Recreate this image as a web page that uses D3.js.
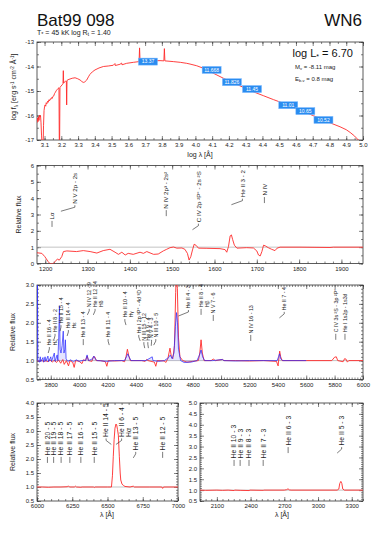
<!DOCTYPE html>
<html lang="en">
<head>
<meta charset="UTF-8">
<title>Bat99 098</title>
<script src="https://d3js.org/d3.v7.min.js"></script>
<style>
  body { margin: 0; background: #fff; }
  svg { font-family: "Liberation Sans", Arial, sans-serif; }
  .frame { fill: none; stroke: #333; stroke-width: 0.8; }
  .axis path { display: none; }
  .axis line { stroke: #333; stroke-width: 0.6; }
  .axis text { font-size: 6px; fill: #222; }
  .model { fill: none; stroke: #ff2a2a; stroke-width: 0.9; }
  .obs { fill: none; stroke: #2a2aff; stroke-width: 0.9; stroke-opacity: 0.8; }
  .obsfill { fill: #6a6aff; fill-opacity: 0.18; stroke: none; }
  .unity { stroke: #aaa; stroke-width: 0.7; }
  .ident text { font-family: "Liberation Sans Narrow", "Liberation Sans", sans-serif; fill: #222; }
  .ident path { fill: none; stroke: #222; stroke-width: 0.6; }
  .title { font-size: 17px; fill: #111; }
  .lab { font-size: 7px; fill: #222; }
</style>
</head>
<body>
<svg id="chart" width="382" height="541"></svg>
<script>
// ---- SED (log lambda, log f_lambda) ----
const sedModel = [
  [3.055,-16.30],[3.058,-16.10],[3.061,-16.25],[3.064,-16.05],[3.067,-16.20],[3.070,-15.98],[3.073,-16.05],
  [3.076,-16.00],[3.079,-16.30],[3.082,-16.80],[3.084,-17.05],[3.092,-17.05],[3.094,-16.40],[3.097,-15.80],
  [3.100,-15.65],[3.103,-15.57],[3.107,-15.62],[3.110,-15.48],[3.114,-15.52],[3.118,-15.42],[3.122,-15.46],
  [3.126,-15.36],[3.130,-15.40],[3.134,-15.32],[3.138,-15.34],[3.142,-15.27],[3.146,-15.30],[3.150,-15.22],
  [3.155,-15.20],[3.160,-15.10],[3.165,-15.05],[3.170,-14.98],[3.175,-14.95],[3.180,-14.90],[3.186,-14.87],
  [3.188,-17.05],[3.190,-17.05],[3.192,-14.86],[3.198,-14.80],[3.205,-14.75],[3.210,-14.70],[3.212,-14.17],
  [3.214,-14.68],[3.220,-14.62],[3.226,-14.60],[3.230,-14.60],[3.232,-15.57],[3.234,-14.57],[3.240,-14.54],
  [3.252,-14.51],[3.265,-14.48],[3.282,-14.46],[3.298,-14.50],[3.312,-14.55],[3.322,-14.61],[3.331,-14.65],
  [3.340,-14.63],[3.352,-14.55],[3.362,-14.42],[3.371,-14.32],[3.385,-14.22],[3.401,-14.14],[3.425,-14.06],
  [3.451,-14.00],[3.480,-13.98],[3.510,-13.95],[3.520,-13.88],[3.522,-13.96],[3.550,-13.91],[3.560,-13.86],
  [3.562,-13.93],[3.590,-13.87],[3.630,-13.83],[3.664,-13.80],[3.667,-13.24],[3.670,-13.80],[3.710,-13.78],
  [3.750,-13.77],[3.789,-13.76],[3.812,-13.77],[3.815,-13.27],[3.818,-13.77],[3.868,-13.80],[3.910,-13.83],
  [3.948,-13.87],[3.968,-13.90],[4.008,-13.97],[4.047,-14.07],[4.100,-14.25],[4.167,-14.48],[4.230,-14.68],
  [4.286,-14.85],[4.345,-15.03],[4.405,-15.19],[4.465,-15.35],[4.525,-15.50],[4.585,-15.67],[4.644,-15.84],
  [4.705,-16.01],[4.763,-16.18],[4.815,-16.33],[4.863,-16.46],[4.900,-16.58],[4.923,-16.69],[4.950,-16.84],
  [4.972,-17.00],[4.990,-17.10]
];
const photLogLam = [3.717, 4.097, 4.218, 4.338, 4.554, 4.656, 4.764];
const photLogF   = [-13.80, -14.14, -14.64, -14.92, -15.58, -15.82, -16.18];
const photMag    = ['13.37', '11.668', '11.826', '11.45', '11.01', '10.65', '10.52'];

// ---- UV (wavelength, relative flux) ----
const uvModel = [
  [1180,0.66],[1192,0.62],[1199,0.42],[1207,0.11],[1211,0.0],[1219,0.0],[1223,0.11],[1229,0.28],[1233,0.2],
  [1239,0.42],[1243,0.73],[1251,0.77],[1274,0.73],[1290,0.79],[1306,0.73],[1322,0.64],[1337,0.79],[1353,0.87],
  [1365,0.69],[1373,0.56],[1381,0.69],[1389,0.52],[1396,0.62],[1408,0.56],[1424,0.69],[1432,0.62],[1440,0.73],
  [1456,0.56],[1467,0.58],[1479,0.77],[1487,0.87],[1495,0.97],[1503,1.01],[1511,0.94],[1523,0.95],[1530,0.87],
  [1536,0.62],[1540,0.21],[1544,0.42],[1548,0.83],[1552,1.18],[1557,1.1],[1562,0.94],[1582,0.93],[1613,0.91],
  [1625,0.85],[1629,0.69],[1633,1.03],[1637,1.69],[1640,1.75],[1643,1.46],[1647,1.12],[1653,0.94],[1676,0.97],
  [1692,0.95],[1700,0.77],[1704,0.52],[1708,0.46],[1712,0.73],[1716,1.12],[1720,1.08],[1727,0.97],[1735,0.87],
  [1743,0.79],[1748,0.94],[1755,1.0],[1802,1.0],[1873,0.98],[1881,1.0],[1951,1.0]
];
// [line wavelength, label wavelength, leader level, text]
const uvIds = [
  [1216, 1216, 2.24, 'Lα'],
  [1237, 1270, 3.20, 'N V 2p - 2s'],
  [1486, 1486, 2.90, 'N IV 2p³ - 2s²'],
  [1548, 1562, 2.07, 'C IV 2p ²P° - 2s ²S'],
  [1640, 1666, 3.60, 'He II 3 - 2'],
  [1718, 1718, 3.70, 'N IV']
];

// ---- optical (wavelength, relative flux) ----
const optModel = [
  [3703,1.0],[3720,0.98],[3735,1.01],[3750,0.97],[3765,1.0],[3780,0.97],[3795,1.02],[3810,0.96],[3825,1.01],
  [3840,0.95],[3855,1.02],[3870,0.93],[3885,1.03],[3895,0.9],[3910,1.0],[3925,0.86],[3935,1.0],[3955,0.95],
  [3965,0.82],[3975,1.0],[4000,0.98],[4020,0.92],[4030,1.02],[4045,1.0],[4056,1.12],[4066,1.0],[4090,0.98],
  [4100,1.1],[4110,1.1],[4120,1.0],[4150,1.0],[4185,0.97],[4195,0.85],[4205,1.0],[4250,0.99],[4300,1.0],
  [4320,0.97],[4330,1.1],[4340,1.3],[4350,1.12],[4360,1.0],[4440,1.0],[4465,0.98],[4475,1.03],[4485,1.0],
  [4530,0.96],[4540,0.85],[4550,1.0],[4600,0.99],[4610,0.95],[4625,1.05],[4640,1.33],[4650,1.1],[4660,1.05],
  [4672,1.4],[4680,2.8],[4686,3.4],[4692,2.9],[4700,1.6],[4710,1.1],[4730,1.0],[4760,0.96],[4800,0.98],
  [4840,1.0],[4850,1.2],[4859,1.55],[4868,1.2],[4880,1.0],[4930,1.0],[4945,1.04],[4960,1.0],[5010,1.03],
  [5020,1.0],[5100,1.0],[5200,0.99],[5300,1.0],[5390,0.98],[5402,0.86],[5408,1.1],[5413,1.25],[5420,1.1],
  [5430,1.0],[5600,1.0],[5780,1.0],[5800,1.09],[5812,1.1],[5822,1.0],[5860,0.97],[5870,1.05],[5880,1.04],
  [5890,0.96],[5900,1.0],[6000,1.0]
];
const optObs = [
  [3703,1.0],[3706,3.2],[3709,1.0],[3720,0.96],[3726,1.1],[3730,0.97],[3745,1.08],[3750,0.96],[3760,1.1],
  [3765,0.98],[3780,1.12],[3785,0.97],[3800,1.1],[3805,0.98],[3825,1.2],[3830,0.98],[3845,1.15],[3850,1.0],
  [3856,1.6],[3861,2.45],[3866,1.3],[3872,1.2],[3880,1.4],[3888,1.78],[3893,1.2],[3899,1.3],[3903,1.55],
  [3908,1.05],[3920,0.98],[3940,1.02],[3960,0.97],[3980,1.02],[4000,0.98],[4030,1.01],[4045,1.0],[4056,1.15],
  [4066,1.0],[4095,1.05],[4103,1.12],[4112,1.06],[4125,1.0],[4200,0.98],[4250,1.0],[4320,1.0],[4333,1.1],
  [4342,1.18],[4352,1.1],[4365,1.0],[4470,1.0],[4515,1.1],[4520,1.0],[4560,0.98],[4600,1.0],[4630,1.08],
  [4642,1.15],[4655,1.05],[4668,1.2],[4678,1.9],[4686,2.27],[4693,2.0],[4700,1.3],[4715,1.0],[4740,0.95],
  [4790,0.96],[4830,1.0],[4848,1.15],[4859,1.28],[4870,1.1],[4885,1.0],[4940,1.0],[5010,1.03],[5020,1.0],
  [5100,0.99],[5200,1.0],[5395,1.0],[5405,1.1],[5412,1.18],[5420,1.05],[5435,1.0],[5500,1.0],[5600,1.0]
];
const optIds = [
  [3782, 3790, 1.20, 'He II 16 - 4|Hζ'],
  [3822, 3830, 1.55, 'He II 8 - 2'],
  [3865, 3872, 1.78, 'He II 15 - 4'],
  [3915, 3924, 1.65, 'He II 14 - 4|Hε'],
  [4029, 4029, 1.41, 'He II 13 - 4'],
  [4058, 4071, 2.21, 'N IV 12 - 9'],
  [4100, 4112, 2.21, 'He II 12 - 4|Hδ'],
  [4212, 4204, 1.41, 'He II 11 - 4'],
  [4330, 4322, 1.94, 'He II 10 - 4|Hγ'],
  [4430, 4420, 1.52, 'He I 2p ³P° - 4d ³D'],
  [4462, 4456, 1.33, 'N III 15 - 12'],
  [4488, 4484, 1.33, 'He II 9 - 4'],
  [4508, 4510, 1.39, 'N V 4 - 3'],
  [4525, 4540, 1.41, 'N III 10 - 5'],
  [4700, 4770, 2.18, 'He II 4 - 3'],
  [4859, 4859, 2.21, 'He II 8 - 4|Hβ'],
  [4945, 4945, 2.05, 'N V 7 - 6'],
  [5209, 5209, 1.52, 'N IV 16 - 13'],
  [5411, 5445, 2.13, 'He II 7 - 4'],
  [5808, 5808, 1.55, 'C IV 3s ²S - 3p ²P°'],
  [5873, 5873, 1.55, 'He I 1s2p - 1s3d']
];

// ---- H alpha region ----
const haModel = [
  [6000,1.0],[6040,1.0],[6080,0.99],[6120,1.0],[6170,1.0],[6215,1.01],[6222,1.04],[6230,1.0],[6265,1.0],
  [6272,1.03],[6280,1.0],[6311,0.99],[6320,1.0],[6400,1.0],[6406,0.98],[6412,1.0],[6500,1.0],[6528,1.0],
  [6535,1.4],[6541,2.08],[6547,2.7],[6553,3.1],[6560,3.25],[6565,3.22],[6571,3.05],[6577,2.85],[6584,2.08],
  [6590,1.5],[6594,1.25],[6603,1.1],[6615,1.05],[6624,1.02],[6660,1.0],[6683,1.03],[6690,1.0],[6800,1.0],
  [6885,1.0],[6891,0.95],[6897,1.0],[7000,1.0]
];
const haIds = [
  [6074, 6074, 1.86, 'He II 20 - 5'],
  [6118, 6118, 1.86, 'He II 19 - 5'],
  [6171, 6171, 1.86, 'He II 18 - 5'],
  [6233, 6233, 1.86, 'He II 17 - 5'],
  [6311, 6311, 1.86, 'He II 16 - 5'],
  [6406, 6406, 1.86, 'He II 15 - 5'],
  [6527, 6490, 2.52, 'He II 14 - 5'],
  [6560, 6600, 2.52, 'He II 6 - 4|Hα'],
  [6683, 6700, 2.04, 'He II 13 - 5'],
  [6891, 6891, 2.04, 'He II 12 - 5']
];

// ---- UV He II n-3 region ----
const uv2Model = [
  [1950,1.0],[2000,0.99],[2100,1.0],[2150,0.99],[2200,1.0],[2253,0.98],[2260,1.0],[2307,0.99],[2386,0.98],
  [2395,1.0],[2512,0.99],[2520,1.0],[2700,1.0],[2720,1.02],[2733,1.06],[2745,1.01],[2760,1.0],[3170,1.0],
  [3185,1.05],[3193,1.3],[3203,1.4],[3212,1.3],[3220,1.05],[3235,1.0],[3400,1.0]
];
const uv2Ids = [
  [2253, 2253, 2.11, 'He II 10 - 3'],
  [2307, 2307, 2.11, 'He II 9 - 3'],
  [2386, 2386, 2.11, 'He II 8 - 3'],
  [2512, 2512, 2.11, 'He II 7 - 3'],
  [2734, 2734, 2.70, 'He II 6 - 3'],
  [3170, 3210, 2.70, 'He II 5 - 3']
];

const svg = d3.select('#chart');
let clipCount = 0;

const stepTicks = (d, step) => d3.range(Math.ceil(d[0] / step - 1e-6), Math.floor(d[1] / step + 1e-6) + 1)
  .map(i => +(i * step).toFixed(6));

function makePanel(o) {
  const x = d3.scaleLinear().domain(o.xd).range([o.left, o.right]);
  const y = d3.scaleLinear().domain(o.yd).range([o.bottom, o.top]);
  const g = svg.append('g');
  const id = 'clip' + (clipCount++);
  svg.append('clipPath').attr('id', id).append('rect')
    .attr('x', o.left).attr('y', o.top).attr('width', o.right - o.left).attr('height', o.bottom - o.top);

  const add = (fn, scale, ticks, size, fmt, tr) => g.append('g').attr('class', 'axis').attr('transform', tr)
    .call(fn(scale).tickValues(ticks).tickSizeInner(-size).tickSizeOuter(0).tickPadding(3).tickFormat(fmt));
  const blank = () => '';
  const xM = stepTicks(o.xd, o.xMajor), xm = stepTicks(o.xd, o.xMinor);
  const yM = stepTicks(o.yd, o.yMajor), ym = stepTicks(o.yd, o.yMinor);
  add(d3.axisBottom, x, xm, 2, blank, `translate(0,${o.bottom})`);
  add(d3.axisBottom, x, xM, 4, o.xFmt, `translate(0,${o.bottom})`);
  add(d3.axisTop, x, xm, 2, blank, `translate(0,${o.top})`);
  add(d3.axisTop, x, xM, 4, blank, `translate(0,${o.top})`);
  add(d3.axisLeft, y, ym, 2, blank, `translate(${o.left},0)`);
  add(d3.axisLeft, y, yM, 4, o.yFmt, `translate(${o.left},0)`);
  add(d3.axisRight, y, ym, 2, blank, `translate(${o.right},0)`);
  add(d3.axisRight, y, yM, 4, blank, `translate(${o.right},0)`);
  g.append('rect').attr('class', 'frame')
    .attr('x', o.left).attr('y', o.top).attr('width', o.right - o.left).attr('height', o.bottom - o.top);
  const plot = g.append('g').attr('clip-path', `url(#${id})`);
  return { x, y, g, plot, o };
}

function drawLine(p, data, cls) {
  p.plot.append('path').datum(data).attr('class', cls)
    .attr('d', d3.line().x(d => p.x(d[0])).y(d => p.y(d[1])));
}

function unity(p) {
  p.plot.append('line').attr('class', 'unity')
    .attr('x1', p.o.left).attr('x2', p.o.right).attr('y1', p.y(1)).attr('y2', p.y(1));
}

function drawIdents(p, ids, size) {
  const g = p.g.append('g').attr('class', 'ident').attr('font-size', size);
  ids.forEach(([lam, lab, lev, txt]) => {
    const x0 = p.x(lam), x1 = p.x(lab), y0 = p.y(lev);
    g.append('path').attr('d', `M${x0},${y0}L${x1},${y0 - 4}L${x1},${y0 - 6}`);
    txt.split('|').forEach((t, i) => {
      g.append('text').attr('transform', `translate(${x1 + size * 0.35 + i * size * 1.1},${y0 - 7.5}) rotate(-90)`).text(t);
    });
  });
}

function yTitle(x, y, text) {
  svg.append('text').attr('class', 'lab').attr('text-anchor', 'middle')
    .attr('transform', `translate(${x},${y}) rotate(-90)`).text(text);
}

// ---- header ----
svg.append('text').attr('class', 'title').attr('x', 37).attr('y', 26).text('Bat99 098');
svg.append('text').attr('class', 'title').attr('x', 362).attr('y', 26).attr('text-anchor', 'end').text('WN6');
const sub = svg.append('text').attr('class', 'lab').attr('x', 37).attr('y', 34.5).attr('font-size', 8);
sub.append('tspan').text('T');
sub.append('tspan').attr('font-size', 5.5).attr('dy', 1.5).text('*');
sub.append('tspan').attr('dy', -1.5).text(' =  45 kK   log R');
sub.append('tspan').attr('font-size', 5.5).attr('dy', 1.5).text('t');
sub.append('tspan').attr('dy', -1.5).text(' = 1.40');

// ---- panel 1: SED ----
const p1 = makePanel({ left: 37, right: 363, top: 42, bottom: 140, xd: [3.055, 5.0], yd: [-17, -13],
  xMajor: 0.1, xMinor: 0.05, yMajor: 1, yMinor: 0.5, xFmt: d3.format('.1f'), yFmt: d => String(d) });
drawLine(p1, sedModel, 'model');
const phot = p1.g.append('g');
photMag.forEach((m, i) => {
  const cx = p1.x(photLogLam[i]), cy = p1.y(photLogF[i]);
  phot.append('rect').attr('x', cx - 9.5).attr('y', cy - 3.5).attr('width', 19).attr('height', 7)
    .attr('fill', '#2a8cf0').attr('stroke', '#7ab8ff').attr('stroke-width', 0.5);
  phot.append('text').attr('x', cx).attr('y', cy + 1.8).attr('text-anchor', 'middle')
    .attr('font-size', 5).attr('fill', '#fff').text(m);
});
svg.append('text').attr('class', 'lab').attr('x', 200).attr('y', 157).attr('text-anchor', 'middle').text('log λ [Å]');
const yl = svg.append('text').attr('class', 'lab').attr('font-size', 6.5).attr('text-anchor', 'middle')
  .attr('transform', 'translate(16,87) rotate(-90)');
yl.append('tspan').text('log f');
yl.append('tspan').attr('font-size', 4.5).attr('dy', 1.5).text('λ');
yl.append('tspan').attr('dy', -1.5).text(' [erg s');
yl.append('tspan').attr('font-size', 4.5).attr('dy', -2.5).text('-1');
yl.append('tspan').attr('dy', 2.5).text(' cm');
yl.append('tspan').attr('font-size', 4.5).attr('dy', -2.5).text('-2');
yl.append('tspan').attr('dy', 2.5).text(' Å');
yl.append('tspan').attr('font-size', 4.5).attr('dy', -2.5).text('-1');
yl.append('tspan').attr('dy', 2.5).text(']');

const lum = svg.append('text').attr('x', 353).attr('y', 57).attr('text-anchor', 'end').attr('font-size', 11).attr('fill', '#111');
lum.append('tspan').text('log L');
lum.append('tspan').attr('font-size', 7).attr('dy', 2).text('*');
lum.append('tspan').attr('dy', -2).text(' = 6.70');
const mv = svg.append('text').attr('x', 295).attr('y', 69).attr('font-size', 6).attr('fill', '#222');
mv.append('tspan').text('M');
mv.append('tspan').attr('font-size', 4).attr('dy', 1.2).text('v');
mv.append('tspan').attr('dy', -1.2).text(' = -8.11 mag');
const eb = svg.append('text').attr('x', 295).attr('y', 81).attr('font-size', 6).attr('fill', '#222');
eb.append('tspan').text('E');
eb.append('tspan').attr('font-size', 4).attr('dy', 1.2).text('b-v');
eb.append('tspan').attr('dy', -1.2).text(' = 0.8 mag');

// ---- panel 2: UV ----
const p2 = makePanel({ left: 37, right: 363, top: 165.5, bottom: 263.5, xd: [1180.5, 1951], yd: [0, 6],
  xMajor: 100, xMinor: 20, yMajor: 1, yMinor: 0.5, xFmt: d3.format('d'), yFmt: d3.format('d') });
unity(p2);
drawLine(p2, uvModel, 'model');
drawIdents(p2, uvIds, 6.2);
yTitle(21, 214.5, 'Relative flux');

// ---- panel 3: optical ----
const p3 = makePanel({ left: 37, right: 363, top: 285, bottom: 379.5, xd: [3703, 6000], yd: [0.5, 3.0],
  xMajor: 200, xMinor: 20, yMajor: 0.5, yMinor: 0.1, xFmt: d3.format('d'), yFmt: d3.format('.1f') });
unity(p3);
drawLine(p3, optModel, 'model');
p3.plot.append('path').datum(optObs).attr('class', 'obsfill')
  .attr('d', d3.area().x(d => p3.x(d[0])).y0(p3.y(1)).y1(d => p3.y(d[1])));
drawLine(p3, optObs, 'obs');
drawIdents(p3, optIds, 5.3);
yTitle(15, 332, 'Relative flux');

// ---- panel 4: H alpha ----
const p4 = makePanel({ left: 37, right: 178, top: 403, bottom: 501, xd: [6000, 7000], yd: [0.5, 4.0],
  xMajor: 250, xMinor: 50, yMajor: 0.5, yMinor: 0.1, xFmt: d3.format('d'), yFmt: d3.format('.1f') });
unity(p4);
drawLine(p4, haModel, 'model');
drawIdents(p4, haIds, 6.8);
yTitle(15, 452, 'Relative flux');
svg.append('text').attr('class', 'lab').attr('x', 107).attr('y', 517).attr('text-anchor', 'middle').text('λ [Å]');

// ---- panel 5: UV He II ----
const p5 = makePanel({ left: 200, right: 363, top: 403, bottom: 501, xd: [1950, 3400], yd: [0.5, 5.0],
  xMajor: 300, xMinor: 50, yMajor: 0.5, yMinor: 0.1, xFmt: d3.format('d'), yFmt: d3.format('.1f') });
unity(p5);
drawLine(p5, uv2Model, 'model');
drawIdents(p5, uv2Ids, 6.8);
svg.append('text').attr('class', 'lab').attr('x', 282).attr('y', 517).attr('text-anchor', 'middle').text('λ [Å]');
</script>
</body>
</html>
